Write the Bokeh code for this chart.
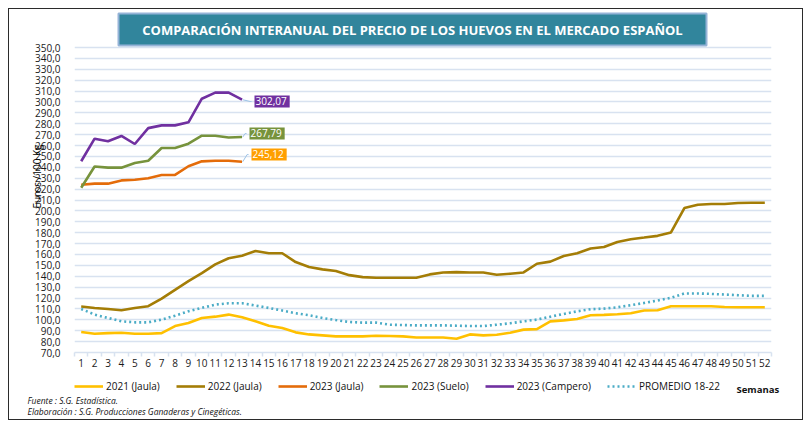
from bokeh.plotting import figure
from bokeh.layouts import column
from bokeh.models import Range1d, FixedTicker, Legend, LegendItem, Label
from bokeh.core.properties import value
from bokeh.embed import file_html
from bokeh.resources import INLINE

# ---------------- data ----------------
weeks = list(range(1, 53))
weeks_2023 = list(range(1, 14))

y2021_jaula = [88.8, 87.2, 87.8, 88.2, 87.2, 87.2, 87.8, 94.3, 97.1, 101.7, 102.9, 104.8, 102.3,
               98.6, 94.6, 92.5, 88.5, 86.6, 85.7, 84.8, 84.8, 84.8, 85.4, 85.1, 84.8, 83.8,
               83.8, 83.8, 82.6, 86.6, 85.7, 86.3, 88.2, 91.0, 91.5, 98.6, 99.5, 100.8, 104.2,
               104.5, 105.1, 106.0, 108.5, 108.8, 112.5, 112.5, 112.5, 112.5, 111.8, 111.5, 111.5, 111.5]
y2022_jaula = [112.2, 110.9, 110.0, 108.8, 110.9, 112.5, 119.5, 127.5, 135.5, 142.9, 150.9, 156.5, 158.9,
               163.2, 161.1, 161.1, 153.0, 148.5, 146.3, 144.8, 141.0, 139.2, 138.6, 138.6, 138.6, 138.6,
               141.7, 143.5, 143.8, 143.5, 143.5, 141.4, 142.3, 143.5, 151.5, 153.4, 158.6, 161.1, 165.4,
               166.9, 171.5, 174.0, 175.5, 177.1, 180.2, 202.6, 205.7, 206.3, 206.3, 207.2, 207.5, 207.5]
y2023_jaula = [224.0, 225.0, 225.0, 228.0, 228.6, 230.0, 233.0, 233.0, 241.0, 245.5, 246.0, 246.0, 245.12]
y2023_suelo = [221.3, 240.8, 239.7, 239.7, 244.0, 246.0, 257.7, 257.7, 261.7, 269.0, 269.0, 267.4, 267.79]
y2023_campero = [245.6, 266.3, 263.9, 268.8, 261.4, 276.0, 278.5, 278.5, 281.3, 303.0, 308.6, 308.6, 302.07]
promedio_18_22 = [110.0, 104.8, 101.7, 98.6, 97.7, 97.7, 100.2, 103.8, 107.8, 110.9, 114.0, 115.2, 115.2,
                  113.1, 110.9, 108.5, 106.0, 104.2, 101.7, 99.8, 98.0, 97.4, 97.4, 95.5, 95.2, 94.9,
                  94.9, 94.9, 94.6, 94.3, 94.3, 95.5, 96.8, 98.6, 100.2, 102.9, 105.4, 107.8, 109.7,
                  110.3, 111.5, 113.4, 115.5, 117.7, 120.2, 124.2, 124.2, 123.8, 123.2, 122.6, 122.0, 122.0]

series_names = ["2021 (Jaula)", "2022 (Jaula)", "2023 (Jaula)", "2023 (Suelo)", "2023 (Campero)", "PROMEDIO 18-22"]
y_ticks = list(range(70, 351, 10))
y_tick_labels = [f"{v},0" for v in y_ticks]
x_tick_labels = [str(w) for w in weeks]

title_text = "COMPARACIÓN INTERANUAL DEL PRECIO DE LOS HUEVOS EN EL MERCADO ESPAÑOL"
y_title = "Euros /100 Kg"
x_title = "Semanas"
foot1 = "Fuente :  S.G. Estadística."
foot2 = "Elaboración : S.G. Producciones Ganaderas y Cinegéticas."

# ---------------- style ----------------
C2021 = "#FFC000"
C2022 = "#A47D06"
CJAULA = "#E46C0A"
CSUELO = "#77933C"
CCAMP = "#7030A0"
CPROM = "#4BACC6"
GRID = "#D8E2F0"
FONT = "Open Sans"
TXT = "#1a1a1a"
styles = [dict(line_color=C2021), dict(line_color=C2022), dict(line_color=CJAULA),
          dict(line_color=CSUELO), dict(line_color=CCAMP), dict(line_color=CPROM, line_dash="2 3")]
series_x = [weeks, weeks, weeks_2023, weeks_2023, weeks_2023, weeks]
series_y = [y2021_jaula, y2022_jaula, y2023_jaula, y2023_suelo, y2023_campero, promedio_18_22]

W = 811
FR_L, FR_R = 74, 771          # frame left/right in page px
GRID_TOP, FR_B = 47, 352      # 350-gridline and frame bottom (70) in page px
PX_X = (FR_R - FR_L) / 52.0
PX_Y = (FR_B - GRID_TOP) / 280.0
MAIN_H = 376
BOT_H = 428 - MAIN_H


def wx(px):   # page x -> week coordinate
    return 0.5 + (px - FR_L) / PX_X


def vy(py):   # page y -> value coordinate
    return 350 - (py - GRID_TOP) / PX_Y


# ---------------- main figure ----------------
p = figure(width=W, height=MAIN_H, output_backend="svg", toolbar_location=None,
           x_range=Range1d(0.5, 52.5), y_range=Range1d(70, vy(0)),
           min_border_left=FR_L, min_border_right=W - FR_R, min_border_top=0,
           min_border_bottom=MAIN_H - FR_B)
p.outline_line_color = None
p.background_fill_alpha = 0
p.border_fill_alpha = 0

p.xaxis.ticker = FixedTicker(ticks=weeks, minor_ticks=[w + 0.5 for w in range(0, 53)])
p.xaxis.major_label_overrides = {w: s for w, s in zip(weeks, x_tick_labels)}
p.xaxis.major_tick_line_color = None
p.xaxis.major_tick_out = 4
p.xaxis.major_tick_in = 0
p.xaxis.minor_tick_line_color = GRID
p.xaxis.minor_tick_line_width = 1.5
p.xaxis.minor_tick_out = 4
p.xaxis.minor_tick_in = 0
p.xaxis.axis_line_color = GRID
p.xaxis.axis_line_width = 1.5
p.xaxis.major_label_standoff = 2
p.xaxis.major_label_text_font = FONT
p.xaxis.major_label_text_font_size = "10px"
p.xaxis.major_label_text_color = TXT

p.yaxis.ticker = FixedTicker(ticks=y_ticks)
p.yaxis.major_label_overrides = {v: s for v, s in zip(y_ticks, y_tick_labels)}
p.yaxis.axis_line_color = None
p.yaxis.major_tick_line_color = None
p.yaxis.minor_tick_line_color = None
p.yaxis.major_label_standoff = 8
p.yaxis.major_label_text_font = FONT
p.yaxis.major_label_text_font_size = "10px"
p.yaxis.major_label_text_color = TXT
p.yaxis.axis_label = y_title
p.yaxis.axis_label_text_font = FONT
p.yaxis.axis_label_text_font_size = "10px"
p.yaxis.axis_label_text_font_style = "normal"
p.yaxis.axis_label_text_color = "#000000"
p.yaxis.axis_label_standoff = -12

p.xgrid.grid_line_color = None
p.ygrid.ticker = FixedTicker(ticks=y_ticks)
p.ygrid.grid_line_color = GRID
p.ygrid.grid_line_width = 1.5

# series (promedio drawn under the 2023 lines)
order = [0, 1, 5, 2, 3, 4]
for i in order:
    p.line(series_x[i], series_y[i], line_width=2.6, **styles[i])


def fmt(v):
    return f"{v:.2f}".replace(".", ",")


# value labels with leader lines (label box left edge px, centre px)
lab_specs = [(y2023_campero[-1], CCAMP, 251, 101),
             (y2023_suelo[-1], CSUELO, 246, 133),
             (y2023_jaula[-1], "#FF9F00", 248, 154)]
for val, col, lpx, lpy in lab_specs:
    lx, ly = wx(lpx), vy(lpy)
    p.line([weeks_2023[-1] + 0.05, lx - 0.1, lx], [val, ly, ly], line_color="#9DC3E6", line_width=1)
    p.add_layout(Label(x=wx(lpx + 3), y=ly, text=fmt(val), text_align="left", text_baseline="middle",
                       text_color="white", text_font=FONT, text_font_size="10px",
                       background_fill_color=col, padding=(1, 3, 1, 3)))

# title box (inside the frame, above the plotted range)
p.quad(left=wx(118), right=wx(706), top=vy(13), bottom=vy(45),
       fill_color="#31859C", line_color="#95B3D7", line_width=2)
p.text(x=[wx(412)], y=[vy(29.5)], text=[title_text], text_align="center", text_baseline="middle",
       text_color="white", text_font=value(FONT), text_font_size="13px", text_font_style="bold")

# ---------------- bottom figure: legend + notes ----------------
b = figure(width=W, height=BOT_H, output_backend="svg", toolbar_location=None,
           x_range=Range1d(0, W), y_range=Range1d(428, MAIN_H),
           min_border=0, x_axis_type=None, y_axis_type=None)
b.outline_line_color = None
b.grid.visible = False
b.background_fill_alpha = 0
b.border_fill_alpha = 0
for fig in (p, b):
    if "frame_align" in fig.properties():
        fig.frame_align = False

# legend renderers: same series, lying outside this strip's visible range
dummies = [b.line(series_x[i], series_y[i], line_width=2.6, **styles[i]) for i in range(6)]
items = [LegendItem(label=n, renderers=[r]) for n, r in zip(series_names, dummies)]
legend = Legend(items=items, orientation="horizontal", location=(74, 428 - 394), margin=0, padding=0,
                spacing=16, glyph_width=29, glyph_height=16, label_height=16, label_standoff=3,
                label_text_font=FONT, label_text_font_size="10px", label_text_color="#111111",
                border_line_color=None, background_fill_alpha=0)
b.add_layout(legend)

b.text(x=[736], y=[389], text=[x_title], text_align="left", text_baseline="middle",
       text_color="#111111", text_font=value(FONT), text_font_size="9.5px", text_font_style="bold")
b.text(x=[27, 27], y=[400, 411], text=[foot1, foot2], text_align="left", text_baseline="middle",
       text_color="#111111", text_font=value(FONT), text_font_size="8.5px", text_font_style="italic")

layout = column(p, b, spacing=0,
                styles={"outline": "1px solid #2b2b2b", "outline-offset": "-9px"})

open("out.html", "w").write(file_html(layout, INLINE))
